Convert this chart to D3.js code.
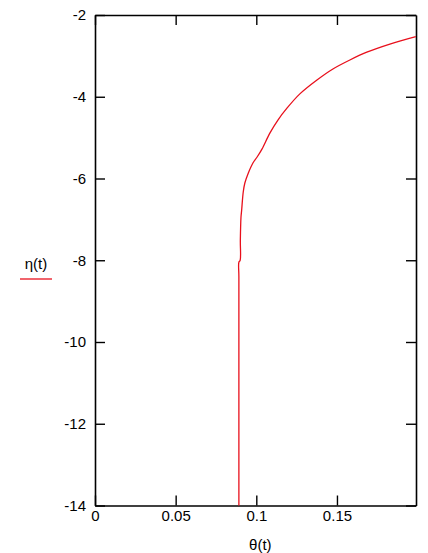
<!DOCTYPE html>
<html>
<head>
<meta charset="utf-8">
<script src="https://cdn.jsdelivr.net/npm/d3@7"></script>
<style>
  body { margin: 0; background: #fff; }
  svg text { font-family: "Liberation Sans", Arial, sans-serif; font-size: 15px; fill: #000; }
</style>
</head>
<body>
<div class="chart"></div>
<script>
// curve: theta(t) on x, eta(t) on y
const thetaVals = [0.0892, 0.0892, 0.0892, 0.0892, 0.0900, 0.0901, 0.0905, 0.0909, 0.0919, 0.0929, 0.0950, 0.0979,
  0.1004, 0.1035, 0.1084, 0.1134, 0.1190, 0.1270, 0.1376, 0.1475, 0.1580, 0.1685, 0.1828, 0.1989]
const etaVals = [-14, -11, -8.4, -8.05, -8.0, -7.51, -6.95, -6.78, -6.33, -6.11, -5.87, -5.62,
  -5.48, -5.28, -4.89, -4.57, -4.28, -3.93, -3.59, -3.32, -3.10, -2.91, -2.71, -2.53]
const xTicks = [0, 0.05, 0.1, 0.15]
const yTicks = [-2, -4, -6, -8, -10, -12, -14]
const xDomain = [0, 0.199]
const yDomain = [-14, -2]

const margin = ({top: 15, right: 12, bottom: 47.5, left: 95})
const W = 428, H = 553
const width = W - margin.left - margin.right
const height = H - margin.top - margin.bottom

const svg = d3.select('.chart').append('svg')
    .attr('width', W)
    .attr('height', H)

const g = svg.append('g')
    .attr('transform', `translate(${margin.left},${margin.top})`)

let x = d3.scaleLinear().domain(xDomain).range([0, width])
let y = d3.scaleLinear().domain(yDomain).range([height, 0])

const fmt = d => String(d)   // plain hyphen minus, no trailing zeros

// axes: ticks pointing inside the box on all four sides
g.append('g')
    .attr('transform', `translate(0,${height})`)
    .call(d3.axisBottom(x).tickValues(xTicks).tickFormat(fmt).tickSizeInner(-10).tickSizeOuter(0).tickPadding(5))
g.append('g')
    .call(d3.axisTop(x).tickValues(xTicks).tickFormat('').tickSizeInner(-10).tickSizeOuter(0))
g.append('g')
    .call(d3.axisLeft(y).tickValues(yTicks).tickFormat(fmt).tickSizeInner(-10).tickSizeOuter(0).tickPadding(9))
g.append('g')
    .attr('transform', `translate(${width},0)`)
    .call(d3.axisRight(y).tickValues(yTicks).tickFormat('').tickSizeInner(-10).tickSizeOuter(0))

g.selectAll('.domain').attr('stroke', '#000').attr('stroke-width', 1.6)
g.selectAll('.tick line').attr('stroke', '#000').attr('stroke-width', 1.4)
g.selectAll('.tick text').attr('font-size', 15)

// the curve
const line = d3.line()
    .x((d, i) => x(thetaVals[i]))
    .y(d => y(d))
    .curve(d3.curveCatmullRom.alpha(0.5))

g.append('path')
    .datum(etaVals)
    .attr('d', line)
    .attr('fill', 'none')
    .attr('stroke', '#e8101c')
    .attr('stroke-width', 1.3)

// axis titles
svg.append('text')
    .attr('x', margin.left + x(0.1) + 4)
    .attr('y', 550)
    .attr('text-anchor', 'middle')
    .text('θ(t)')

svg.append('text')
    .attr('x', 36)
    .attr('y', 269)
    .attr('text-anchor', 'middle')
    .text('η(t)')

// legend swatch under eta label
svg.append('line')
    .attr('x1', 20).attr('x2', 52)
    .attr('y1', 279).attr('y2', 279)
    .attr('stroke', '#e8101c')
    .attr('stroke-width', 1.3)
</script>
</body>
</html>
